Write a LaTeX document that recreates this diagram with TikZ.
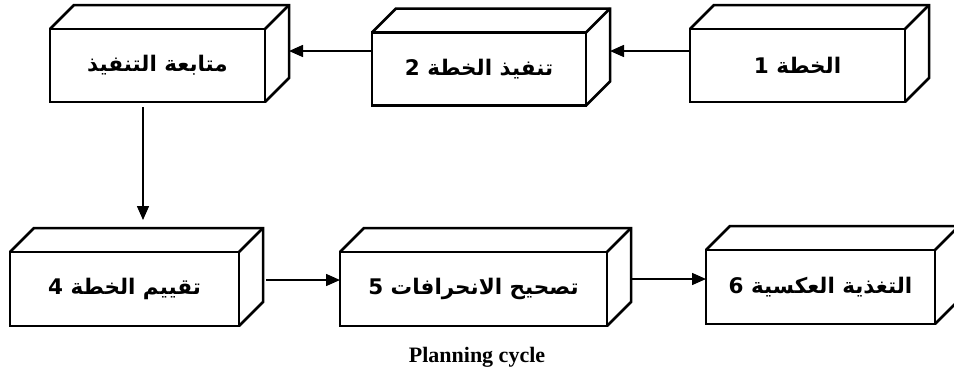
\documentclass[tikz,border=0pt]{standalone}
\usepackage{fontspec}
\usetikzlibrary{arrows.meta,calc}
\TeXXeTstate=1
\newfontfamily\arabicfont[Script=Arabic]{DejaVu Sans}
\setmainfont{Liberation Serif}
\begin{document}
\begin{tikzpicture}[x=1pt,y=-1pt,
  cube/.style={draw, line width=2.5pt, outer sep=0pt, minimum height=73pt, inner sep=0pt,
    font=\arabicfont\bfseries\fontsize{21.5}{24}\selectfont, fill=white},
  arr/.style={line width=1.5pt, -{Triangle[length=14pt,width=12pt]}},
  face/.style={line width=2.5pt, line join=miter}]
\useasboundingbox (0,0) rectangle (954,381);
\clip (0,0) rectangle (954,381);
\newcommand\extrude[1]{%
  \draw[face] (#1.north west) -- ++(24,-24) -- ([shift={(24,-24)}]#1.north east) -- ([shift={(24,-24)}]#1.south east) -- (#1.south east);
  \draw[face] (#1.north east) -- ++(24,-24);}
% top row
\node[cube, minimum width=215pt] (b1) at (797.5,65.5) {\beginR الخطة 1\endR};
\node[cube, minimum width=214pt] (b2) at (479,69) {\beginR تنفيذ الخطة 2\endR};
\node[cube, minimum width=215pt] (b3) at (157.5,65.5) {\beginR متابعة التنفيذ\endR};
% bottom row
\node[cube, minimum width=229pt, minimum height=74pt] (b4) at (124.5,289) {\beginR تقييم الخطة 4\endR};
\node[cube, minimum width=267pt, minimum height=74pt] (b5) at (473.5,289) {\beginR تصحيح الانحرافات 5\endR};
\node[cube, minimum width=229pt, minimum height=74pt] (b6) at (820.5,287) {\beginR التغذية العكسية 6\endR};
\extrude{b1}\extrude{b2}\extrude{b3}\extrude{b4}\extrude{b5}\extrude{b6}
% connectors
\draw[arr] ([yshift=14.5pt]b1.west) -- ([xshift=24pt,yshift=18pt]b2.east);
\draw[arr] ([yshift=18pt]b2.west) -- ([xshift=24pt,yshift=14.5pt]b3.east);
\coordinate (t3) at ([xshift=-14.5pt,yshift=-5pt]b3.south);
\coordinate (t4) at ([yshift=32pt]b4.north);
\draw[arr] (t3) -- (t3 |- t4);
\coordinate (s4) at ([xshift=27pt,yshift=9pt]b4.east);
\draw[arr] (s4) -- (s4 -| b5.west);
\draw[arr] ([xshift=23pt,yshift=10pt]b5.east) -- ([yshift=8pt]b6.west);
% caption
\node[font=\bfseries\fontsize{22}{26}\selectfont] (cap) at (477,357) {Planning cycle};
\end{tikzpicture}
\end{document}
